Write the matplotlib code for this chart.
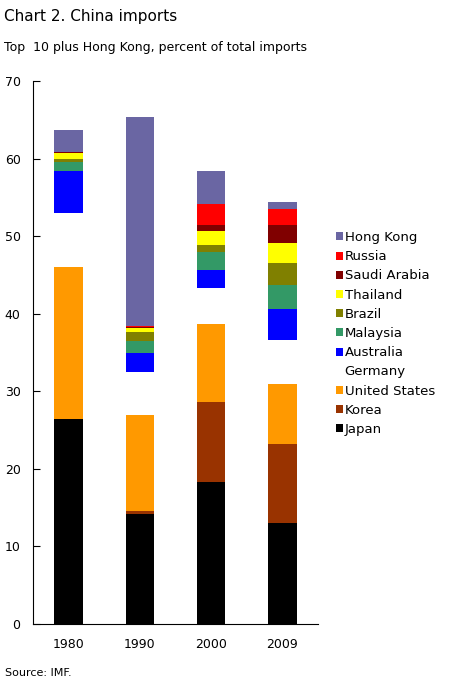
import matplotlib
matplotlib.use("Agg")
import matplotlib.pyplot as plt
from matplotlib.patches import Patch
import numpy as np

plt.rcParams['font.family'] = ['DejaVu Sans']

years = ["1980", "1990", "2000", "2009"]
# stacked from bottom to top
series = ["Japan", "Korea", "United States", "Germany", "Australia", "Malaysia",
          "Brazil", "Thailand", "Saudi Arabia", "Russia", "Hong Kong"]
japan        = [26.4, 14.2, 18.3, 13.0]
korea        = [0.0, 0.4, 10.3, 10.2]
united_states = [19.6, 12.3, 10.1, 7.8]
germany      = [7.0, 5.6, 4.6, 5.6]
australia    = [5.4, 2.5, 2.3, 4.0]
malaysia     = [1.2, 1.5, 2.4, 3.1]
brazil       = [0.4, 1.1, 0.8, 2.8]
thailand     = [0.7, 0.6, 1.9, 2.6]
saudi_arabia = [0.1, 0.1, 0.8, 2.3]
russia       = [0.0, 0.1, 2.6, 2.1]
hong_kong    = [2.9, 27.0, 4.3, 0.9]

values = [japan, korea, united_states, germany, australia, malaysia,
          brazil, thailand, saudi_arabia, russia, hong_kong]
colors = ["#000000", "#993300", "#FF9900", "#FFFFFF", "#0000FF", "#339966",
          "#808000", "#FFFF00", "#800000", "#FF0000", "#6A66A3"]

fig = plt.figure(figsize=(4.52, 6.91), dpi=100)
ax = fig.add_axes([33/452, 67/691, 285/452, (624-81)/691])

x = np.arange(len(years))
bottom = np.zeros(len(years))
for name, vals, c in zip(series, values, colors):
    ax.bar(x, vals, width=0.4, bottom=bottom, color=c, label=name, linewidth=0)
    bottom += np.array(vals)

ax.set_xlim(-0.5, 3.5)
ax.set_ylim(0, 70)
ax.set_yticks(range(0, 71, 10))
ax.set_xticks(x)
ax.set_xticklabels(years)
ax.spines['top'].set_visible(False)
ax.spines['right'].set_visible(False)
ax.tick_params(axis='x', length=0, pad=10, labelsize=9)
ax.tick_params(axis='y', length=5, direction='in', labelsize=9, pad=9)

handles = [Patch(facecolor=c, edgecolor='none', label=n) for n, c in zip(series, colors)][::-1]
fig.legend(handles=handles, loc='upper left', bbox_to_anchor=(336/452, 1 - 231/691),
           frameon=False, fontsize=9.5, handlelength=0.55, handleheight=0.55,
           handletextpad=0.1, labelspacing=0.47, borderaxespad=0, borderpad=0)

fig.text(4/452, 1 - 17/691, "Chart 2. China imports", fontsize=11, va='center', ha='left')
fig.text(4/452, 1 - 47/691, "Top  10 plus Hong Kong, percent of total imports", fontsize=9, va='center', ha='left')
fig.text(5/452, 1 - 673/691, "Source: IMF.", fontsize=8, va='center', ha='left')

fig.savefig("out.png", dpi=100)
